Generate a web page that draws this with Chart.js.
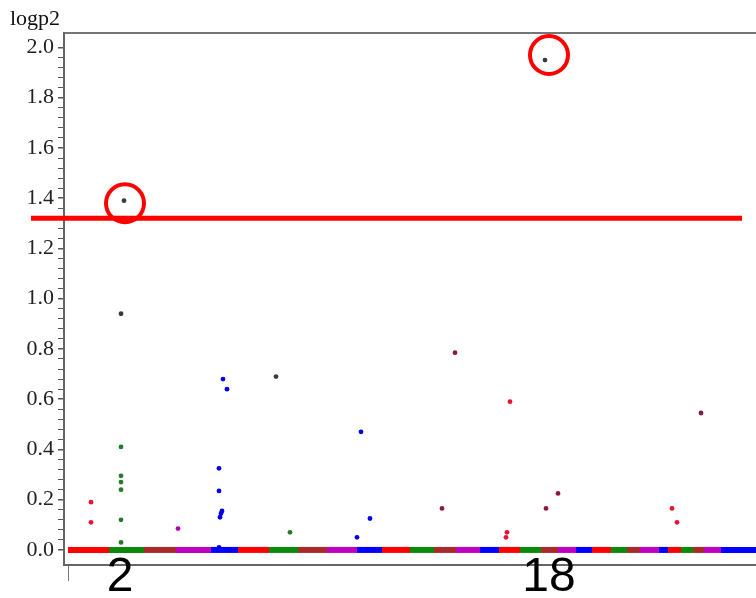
<!DOCTYPE html>
<html>
<head>
<meta charset="utf-8">
<title>logp2</title>
<script src="https://cdn.jsdelivr.net/npm/chart.js@4/dist/chart.umd.min.js"></script>
<style>
	body { margin: 0; background: #fff; }
	#manhattan { display: block; }
</style>
</head>
<body>
<canvas id="manhattan" width="756" height="598"></canvas>
<script>
// chromosome lengths in plot units (cumulative position axis)
let chromLengths = [41, 35, 32, 35, 27, 31, 29, 29, 30, 25, 28, 24, 22, 24, 19, 21, 21, 17, 18, 16, 19, 16, 13, 19, 9, 13, 12, 11, 17, 35];
let chromColors = ['#ff0000', '#0a8a0a', '#a82a2a', '#c000c0', '#0000ff'];

let xLabels = ['2', '18'];
let xLabelPos = [52, 481];
let yTickLabels = ['0.0', '0.2', '0.4', '0.6', '0.8', '1.0', '1.2', '1.4', '1.6', '1.8', '2.0'];

let threshold = 1.32;
let thresholdFrom = -37;
let thresholdTo = 674;

let redPos = [23, 23, 438, 439, 442, 604, 609];
let redVal = [0.19, 0.11, 0.05, 0.07, 0.59, 0.165, 0.11];
let greenPos = [53, 53, 53, 53, 53, 53, 222];
let greenVal = [0.41, 0.295, 0.27, 0.24, 0.12, 0.03, 0.07];
let darkPos = [56, 53, 208, 477];
let darkVal = [1.39, 0.94, 0.69, 1.95];
let magentaPos = [110];
let magentaVal = [0.085];
let bluePos = [151, 151, 151, 152, 153, 154, 155, 159, 289, 293, 302];
let blueVal = [0.325, 0.235, 0.01, 0.13, 0.145, 0.155, 0.68, 0.64, 0.05, 0.47, 0.125];
let brownPos = [374, 387, 478, 490, 633];
let brownVal = [0.165, 0.785, 0.165, 0.225, 0.545];

// red rings drawn round the two hits
let circlePos = [57, 481];
let circleVal = [1.38, 1.97];

function toXY(pos, val){
	return pos.map(function(p, i){ return {x: p, y: val[i]} });
}

function isMajor(v){
	return Math.abs(v * 5 - Math.round(v * 5)) < 1e-6;
}

function drawManhattan(){
	// BEGIN band of chromosomes along y = 0
	let bounds = [0];
	chromLengths.forEach(function(len){
		bounds.push(bounds[bounds.length - 1] + len);
	});
	let bandData = bounds.map(function(b){ return {x: b, y: 0} });
	// END band

	// y ticks: minor every 0.04, labelled on the 0.2 steps
	let yMajor = yTickLabels.map(function(t){ return parseFloat(t) });
	let yTicks = [];
	for (let i = 0; i < yMajor.length; i++){
		yTicks.push(yMajor[i]);
		if (i < yMajor.length - 1){
			for (let k = 1; k < 5; k++){
				yTicks.push(yMajor[i] + (yMajor[i + 1] - yMajor[i]) * k / 5);
			}
		}
	}

	let dot = function(label, pos, val, color){
		return {
			label: label,
			data: toXY(pos, val),
			backgroundColor: color,
			borderWidth: 0,
			pointRadius: 2.4,
			order: 3
		};
	};

	let ctx = document.getElementById('manhattan');
	let chart = new Chart(ctx, {
		type: 'scatter',
		data: {
			datasets: [
				{
					label: 'rings',
					data: toXY(circlePos, circleVal),
					pointRadius: 19,
					pointBorderWidth: 4,
					borderColor: '#ff0000',
					backgroundColor: 'rgba(0,0,0,0)',
					clip: false,
					order: 1
				},
				{
					label: 'threshold',
					data: [{x: thresholdFrom, y: threshold}, {x: thresholdTo, y: threshold}],
					showLine: true,
					borderColor: '#ff0000',
					borderWidth: 5,
					borderCapStyle: 'butt',
					pointRadius: 0,
					clip: false,
					order: 2
				},
				dot('dark', darkPos, darkVal, '#3a3a3a'),
				dot('red', redPos, redVal, '#ee1133'),
				dot('green', greenPos, greenVal, '#237a2a'),
				dot('magenta', magentaPos, magentaVal, '#b000b0'),
				dot('blue', bluePos, blueVal, '#0000ee'),
				dot('brown', brownPos, brownVal, '#8b1a3a'),
				{
					label: 'band',
					data: bandData,
					showLine: true,
					borderWidth: 6,
					borderCapStyle: 'butt',
					pointRadius: 0,
					clip: false,
					segment: {
						borderColor: function(c){ return chromColors[c.p0DataIndex % chromColors.length] }
					},
					order: 4
				}
			]
		},
		options: {
			responsive: false,
			animation: false,
			events: [],
			layout: { autoPadding: false, padding: {left: 10, right: 0, top: 0, bottom: 0} },
			plugins: {
				legend: { display: false },
				tooltip: { enabled: false },
				title: {
					display: true,
					text: 'logp2',
					align: 'start',
					color: '#111',
					font: { family: 'Liberation Serif', size: 22, weight: 'normal' },
					padding: { top: 6, bottom: 1 }
				}
			},
			scales: {
				x: {
					type: 'linear',
					position: 'bottom',
					min: -4,
					max: 688,
					afterBuildTicks: function(s){
						s.ticks = [{value: 0}].concat(xLabelPos.map(function(v){ return {value: v} }));
					},
					afterFit: function(s){ s.height = 33 },
					grid: {
						drawOnChartArea: false,
						tickLength: 16,
						lineWidth: 1,
						color: function(c){ return c.index === 0 ? '#777' : 'rgba(0,0,0,0)' }
					},
					border: { color: '#666', width: 2 },
					ticks: {
						autoSkip: false,
						maxRotation: 0,
						// mirrored so the big labels may run over the axis line, as in the source
						mirror: true,
						padding: -37,
						color: '#000',
						font: { family: 'Liberation Sans', size: 48, lineHeight: 1 },
						callback: function(v, i){ return i === 0 ? '' : xLabels[i - 1] }
					}
				},
				xTop: {
					type: 'linear',
					position: 'top',
					min: -4,
					max: 688,
					afterFit: function(s){ s.height = 0 },
					ticks: { display: false },
					grid: { drawOnChartArea: false, drawTicks: false },
					border: { color: '#777', width: 2 }
				},
				y: {
					type: 'linear',
					min: -0.06,
					max: 2.056,
					afterBuildTicks: function(s){
						s.ticks = yTicks.map(function(v){ return {value: v} });
					},
					afterFit: function(s){ s.width = 54 },
					grid: {
						drawOnChartArea: false,
						tickLength: 6,
						color: '#555',
						lineWidth: function(c){ return c.tick && isMajor(c.tick.value) ? 1.5 : 1 }
					},
					border: { color: '#666', width: 2 },
					ticks: {
						autoSkip: false,
						padding: 4,
						color: '#222',
						font: { family: 'Liberation Serif', size: 22 },
						callback: function(v){ return isMajor(v) ? v.toFixed(1) : '' }
					}
				}
			}
		}
	});
}

drawManhattan();
</script>
</body>
</html>
